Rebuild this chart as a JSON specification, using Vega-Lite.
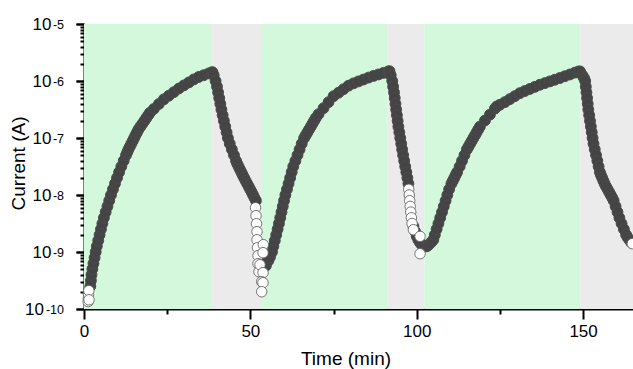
{
  "$schema": "https://vega.github.io/schema/vega-lite/v6.json",
  "width": 549,
  "height": 285,
  "autosize": {"type": "none"},
  "padding": {"left": 84, "top": 24, "right": 0, "bottom": 60},
  "background": "white",
  "config": {
    "view": {"stroke": null},
    "axis": {
      "domainColor": "black", "domainWidth": 2, "tickColor": "black", "tickWidth": 2,
      "labelFont": "Liberation Sans", "labelFontSize": 17, "labelColor": "black", "labelFlush": false, "labelOverlap": false,
      "titleFont": "Liberation Sans", "titleFontSize": 19, "titleFontWeight": "normal", "titleColor": "black",
      "grid": false, "zindex": 1
    }
  },
  "datasets": {
    "bands": [
      {"start": 0, "end": 38.5, "phase": "on"},
      {"start": 38.5, "end": 53.2, "phase": "off"},
      {"start": 53.2, "end": 91.3, "phase": "on"},
      {"start": 91.3, "end": 102.3, "phase": "off"},
      {"start": 102.3, "end": 149.2, "phase": "on"},
      {"start": 149.2, "end": 165, "phase": "off"}
    ],
    "main": [
      {"t": 1.91, "I": 2.512e-10}, {"t": 2.08, "I": 3.162e-10}, {"t": 2.25, "I": 3.981e-10}, {"t": 2.52, "I": 5.012e-10},
      {"t": 2.85, "I": 6.31e-10}, {"t": 3.18, "I": 7.943e-10}, {"t": 3.51, "I": 1e-9}, {"t": 3.85, "I": 1.259e-9},
      {"t": 4.27, "I": 1.585e-9}, {"t": 4.68, "I": 1.995e-9}, {"t": 5.10, "I": 2.512e-9}, {"t": 5.52, "I": 3.162e-9},
      {"t": 5.98, "I": 3.981e-9}, {"t": 6.51, "I": 5.012e-9}, {"t": 7.05, "I": 6.31e-9}, {"t": 7.58, "I": 7.943e-9},
      {"t": 8.12, "I": 1e-8}, {"t": 8.70, "I": 1.259e-8}, {"t": 9.32, "I": 1.585e-8}, {"t": 9.93, "I": 1.995e-8},
      {"t": 10.55, "I": 2.512e-8}, {"t": 11.22, "I": 3.162e-8}, {"t": 11.93, "I": 3.981e-8}, {"t": 12.64, "I": 5.012e-8},
      {"t": 13.00, "I": 5.623e-8}, {"t": 13.36, "I": 6.31e-8}, {"t": 13.79, "I": 7.079e-8}, {"t": 14.22, "I": 7.943e-8},
      {"t": 14.65, "I": 8.913e-8}, {"t": 15.07, "I": 1e-7}, {"t": 15.50, "I": 1.122e-7}, {"t": 15.93, "I": 1.259e-7},
      {"t": 16.37, "I": 1.413e-7}, {"t": 16.96, "I": 1.585e-7}, {"t": 17.55, "I": 1.778e-7}, {"t": 18.14, "I": 1.995e-7},
      {"t": 18.73, "I": 2.239e-7}, {"t": 19.32, "I": 2.512e-7}, {"t": 19.84, "I": 2.78e-7}, {"t": 21.0, "I": 3.24e-7},
      {"t": 22.5, "I": 3.945e-7}, {"t": 24.0, "I": 4.775e-7}, {"t": 25.5, "I": 5.52e-7}, {"t": 27.0, "I": 6.38e-7},
      {"t": 28.5, "I": 7.38e-7}, {"t": 30.0, "I": 8.37e-7}, {"t": 31.5, "I": 9.44e-7}, {"t": 33.0, "I": 1.067e-6},
      {"t": 34.5, "I": 1.178e-6}, {"t": 36.0, "I": 1.265e-6}, {"t": 37.5, "I": 1.358e-6}, {"t": 38.4, "I": 1.416e-6},
      {"t": 38.62, "I": 1.426e-6}, {"t": 38.98, "I": 1.259e-6}, {"t": 39.55, "I": 1e-6}, {"t": 39.98, "I": 7.943e-7},
      {"t": 40.31, "I": 6.31e-7}, {"t": 40.64, "I": 5.012e-7}, {"t": 40.97, "I": 3.981e-7}, {"t": 41.30, "I": 3.162e-7},
      {"t": 41.66, "I": 2.512e-7}, {"t": 42.05, "I": 1.995e-7}, {"t": 42.45, "I": 1.585e-7}, {"t": 42.85, "I": 1.259e-7},
      {"t": 43.25, "I": 1e-7}, {"t": 43.81, "I": 7.943e-8}, {"t": 44.44, "I": 6.31e-8}, {"t": 45.07, "I": 5.012e-8},
      {"t": 45.69, "I": 3.981e-8}, {"t": 46.04, "I": 3.548e-8}, {"t": 46.45, "I": 3.162e-8}, {"t": 46.87, "I": 2.818e-8},
      {"t": 47.28, "I": 2.512e-8}, {"t": 47.70, "I": 2.239e-8}, {"t": 48.13, "I": 1.995e-8}, {"t": 48.58, "I": 1.778e-8},
      {"t": 49.03, "I": 1.585e-8}, {"t": 49.48, "I": 1.413e-8}, {"t": 49.93, "I": 1.259e-8}, {"t": 50.38, "I": 1.122e-8},
      {"t": 50.81, "I": 1e-8}, {"t": 51.24, "I": 8.913e-9}, {"t": 51.67, "I": 7.943e-9},
      {"t": 53.46, "I": 6.76e-10}, {"t": 54.06, "I": 5.754e-10}, {"t": 54.66, "I": 5.754e-10}, {"t": 55.41, "I": 7.03e-10},
      {"t": 55.9, "I": 8.13e-10}, {"t": 56.50, "I": 1e-9}, {"t": 56.92, "I": 1.259e-9}, {"t": 57.34, "I": 1.585e-9},
      {"t": 57.77, "I": 1.995e-9}, {"t": 58.19, "I": 2.512e-9}, {"t": 58.59, "I": 3.162e-9}, {"t": 58.98, "I": 3.981e-9},
      {"t": 59.36, "I": 5.012e-9}, {"t": 59.74, "I": 6.31e-9}, {"t": 60.12, "I": 7.943e-9}, {"t": 60.53, "I": 1e-8},
      {"t": 61.00, "I": 1.259e-8}, {"t": 61.48, "I": 1.585e-8}, {"t": 61.95, "I": 1.995e-8}, {"t": 62.42, "I": 2.512e-8},
      {"t": 62.90, "I": 3.162e-8}, {"t": 63.53, "I": 3.981e-8}, {"t": 64.17, "I": 5.012e-8}, {"t": 64.80, "I": 6.31e-8},
      {"t": 65.43, "I": 7.943e-8}, {"t": 66.16, "I": 1e-7}, {"t": 66.66, "I": 1.122e-7}, {"t": 67.16, "I": 1.259e-7},
      {"t": 67.66, "I": 1.413e-7}, {"t": 68.16, "I": 1.585e-7}, {"t": 68.65, "I": 1.778e-7}, {"t": 69.15, "I": 1.995e-7},
      {"t": 69.65, "I": 2.239e-7}, {"t": 70.5, "I": 2.618e-7}, {"t": 72.0, "I": 3.342e-7}, {"t": 73.5, "I": 4.256e-7},
      {"t": 75.0, "I": 5.41e-7}, {"t": 76.5, "I": 6.22e-7}, {"t": 78.0, "I": 7.18e-7}, {"t": 79.5, "I": 8.28e-7},
      {"t": 81.0, "I": 9.10e-7}, {"t": 82.5, "I": 9.84e-7}, {"t": 84.0, "I": 1.062e-6}, {"t": 85.5, "I": 1.148e-6},
      {"t": 87.0, "I": 1.227e-6}, {"t": 88.5, "I": 1.303e-6}, {"t": 90.0, "I": 1.387e-6}, {"t": 91.4, "I": 1.469e-6},
      {"t": 91.83, "I": 1.486e-6}, {"t": 92.19, "I": 1.259e-6}, {"t": 92.64, "I": 1e-6}, {"t": 92.90, "I": 7.943e-7},
      {"t": 93.17, "I": 6.31e-7}, {"t": 93.39, "I": 5.012e-7}, {"t": 93.61, "I": 3.981e-7}, {"t": 93.82, "I": 3.162e-7},
      {"t": 94.04, "I": 2.512e-7}, {"t": 94.26, "I": 1.995e-7}, {"t": 94.48, "I": 1.585e-7}, {"t": 94.77, "I": 1.259e-7},
      {"t": 95.05, "I": 1e-7}, {"t": 95.34, "I": 7.943e-8}, {"t": 95.62, "I": 6.31e-8}, {"t": 95.91, "I": 5.012e-8},
      {"t": 96.22, "I": 3.981e-8}, {"t": 96.54, "I": 3.162e-8}, {"t": 96.87, "I": 2.512e-8}, {"t": 97.19, "I": 1.995e-8},
      {"t": 97.5, "I": 1.585e-8},
      {"t": 99.0, "I": 2.818e-9}, {"t": 99.5, "I": 2.291e-9}, {"t": 100.0, "I": 1.879e-9}, {"t": 100.5, "I": 1.622e-9},
      {"t": 101.0, "I": 1.455e-9}, {"t": 101.5, "I": 1.349e-9}, {"t": 102.0, "I": 1.288e-9}, {"t": 102.5, "I": 1.253e-9},
      {"t": 103.0, "I": 1.259e-9}, {"t": 103.5, "I": 1.318e-9}, {"t": 104.0, "I": 1.413e-9}, {"t": 104.5, "I": 1.514e-9},
      {"t": 105.0, "I": 1.644e-9}, {"t": 105.44, "I": 1.995e-9}, {"t": 105.98, "I": 2.512e-9}, {"t": 106.52, "I": 3.162e-9},
      {"t": 107.06, "I": 3.981e-9}, {"t": 107.60, "I": 5.012e-9}, {"t": 108.13, "I": 6.31e-9}, {"t": 108.67, "I": 7.943e-9},
      {"t": 109.20, "I": 1e-8}, {"t": 109.74, "I": 1.259e-8}, {"t": 110.43, "I": 1.585e-8}, {"t": 110.85, "I": 1.778e-8},
      {"t": 111.28, "I": 1.995e-8}, {"t": 111.70, "I": 2.239e-8}, {"t": 112.13, "I": 2.512e-8}, {"t": 112.90, "I": 3.162e-8},
      {"t": 113.62, "I": 3.981e-8}, {"t": 114.35, "I": 5.012e-8}, {"t": 115.08, "I": 6.31e-8}, {"t": 115.57, "I": 7.079e-8},
      {"t": 116.06, "I": 7.943e-8}, {"t": 116.55, "I": 8.913e-8}, {"t": 117.03, "I": 1e-7}, {"t": 117.52, "I": 1.122e-7},
      {"t": 118.01, "I": 1.259e-7}, {"t": 118.50, "I": 1.413e-7}, {"t": 118.99, "I": 1.585e-7}, {"t": 120.5, "I": 2.028e-7},
      {"t": 122.0, "I": 2.576e-7}, {"t": 123.5, "I": 3.281e-7}, {"t": 124.04, "I": 3.581e-7}, {"t": 125.0, "I": 3.828e-7},
      {"t": 126.5, "I": 4.266e-7}, {"t": 128.0, "I": 4.819e-7}, {"t": 129.5, "I": 5.433e-7}, {"t": 131.0, "I": 6.124e-7},
      {"t": 132.5, "I": 6.668e-7}, {"t": 134.0, "I": 7.261e-7}, {"t": 135.5, "I": 7.889e-7}, {"t": 137.0, "I": 8.59e-7},
      {"t": 138.5, "I": 9.183e-7}, {"t": 140.0, "I": 9.84e-7}, {"t": 141.5, "I": 1.052e-6}, {"t": 143.0, "I": 1.127e-6},
      {"t": 144.5, "I": 1.211e-6}, {"t": 146.0, "I": 1.3e-6}, {"t": 147.5, "I": 1.4e-6}, {"t": 148.6, "I": 1.469e-6},
      {"t": 149.08, "I": 1.472e-6}, {"t": 149.79, "I": 1.259e-6}, {"t": 150.3, "I": 1.122e-6}, {"t": 150.63, "I": 1e-6},
      {"t": 150.82, "I": 7.943e-7}, {"t": 151.01, "I": 6.31e-7}, {"t": 151.20, "I": 5.012e-7}, {"t": 151.39, "I": 3.981e-7},
      {"t": 151.57, "I": 3.162e-7}, {"t": 151.83, "I": 2.512e-7}, {"t": 152.08, "I": 1.995e-7}, {"t": 152.34, "I": 1.585e-7},
      {"t": 152.60, "I": 1.259e-7}, {"t": 152.85, "I": 1e-7}, {"t": 153.13, "I": 7.943e-8}, {"t": 153.51, "I": 6.31e-8},
      {"t": 153.89, "I": 5.012e-8}, {"t": 154.28, "I": 3.981e-8}, {"t": 154.66, "I": 3.162e-8}, {"t": 155.05, "I": 2.512e-8},
      {"t": 155.36, "I": 2.239e-8}, {"t": 155.73, "I": 1.995e-8}, {"t": 156.10, "I": 1.778e-8}, {"t": 156.46, "I": 1.585e-8},
      {"t": 156.9, "I": 1.413e-8}, {"t": 157.37, "I": 1.259e-8}, {"t": 157.84, "I": 1.122e-8}, {"t": 158.31, "I": 1e-8},
      {"t": 158.78, "I": 8.913e-9}, {"t": 159.19, "I": 7.943e-9}, {"t": 159.77, "I": 6.31e-9}, {"t": 160.34, "I": 5.012e-9},
      {"t": 160.91, "I": 3.981e-9}, {"t": 161.56, "I": 3.162e-9}, {"t": 162.25, "I": 2.512e-9}, {"t": 162.94, "I": 1.995e-9},
      {"t": 163.43, "I": 1.778e-9}, {"t": 164.07, "I": 1.585e-9}, {"t": 164.6, "I": 1.445e-9}
    ],
    "sparse": [
      {"t": 1.25, "I": 1.35e-10}, {"t": 1.3, "I": 1.55e-10}, {"t": 1.35, "I": 1.8e-10}, {"t": 1.45, "I": 2.1e-10}, {"t": 1.5, "I": 1.45e-10},
      {"t": 51.55, "I": 5.98e-9}, {"t": 51.7, "I": 4.34e-9}, {"t": 51.85, "I": 3.13e-9}, {"t": 52.0, "I": 2.27e-9},
      {"t": 52.0, "I": 1.64e-9}, {"t": 52.15, "I": 1.19e-9}, {"t": 52.3, "I": 8.61e-10}, {"t": 52.3, "I": 6.24e-10},
      {"t": 52.6, "I": 4.51e-10}, {"t": 52.9, "I": 5.98e-10}, {"t": 53.89, "I": 1.343e-9}, {"t": 53.8, "I": 9.73e-10},
      {"t": 53.8, "I": 4.34e-10}, {"t": 53.41, "I": 3.01e-10}, {"t": 53.8, "I": 2.89e-10}, {"t": 53.41, "I": 2.01e-10},
      {"t": 97.6, "I": 1.259e-8}, {"t": 97.75, "I": 1e-8}, {"t": 97.9, "I": 7.943e-9}, {"t": 98.05, "I": 6.31e-9},
      {"t": 98.2, "I": 5.012e-9}, {"t": 98.4, "I": 3.981e-9}, {"t": 98.6, "I": 3.162e-9}, {"t": 99.0, "I": 2.46e-9},
      {"t": 101.0, "I": 1.88e-9}, {"t": 101.0, "I": 9.33e-10}, {"t": 164.8, "I": 1.4e-9}
    ]
  },
  "layer": [
    {
      "data": {"name": "bands"},
      "mark": {"type": "rect"},
      "encoding": {
        "x": {"field": "start", "type": "quantitative", "scale": {"domain": [0, 165], "nice": false, "zero": false},
              "axis": {"orient": "bottom", "values": [0, 50, 100, 150], "format": "d", "tickSize": 10, "labelPadding": 4,
                       "title": "Time (min)", "titleX": 261.5, "titleY": 55, "titleBaseline": "alphabetic", "titleAnchor": null, "titleAlign": "center"}},
        "x2": {"field": "end"},
        "color": {"field": "phase", "type": "nominal", "scale": {"domain": ["on", "off"], "range": ["#d4f8dc", "#ebebeb"]}, "legend": null}
      }
    },
    {
      "data": {"name": "main"},
      "mark": {"type": "point", "shape": "circle", "filled": true, "fill": "#444444", "stroke": "#4c4c4c", "strokeWidth": 1, "size": 118, "opacity": 1},
      "encoding": {
        "x": {"field": "t", "type": "quantitative",
              "axis": {"orient": "bottom", "values": [25, 75, 125], "tickSize": 5, "labels": false, "domain": false, "title": null}},
        "y": {"field": "I", "type": "quantitative", "scale": {"type": "log", "domain": [1e-10, 1e-5], "nice": false},
              "axis": {"orient": "left", "values": [1e-9, 1e-8, 1e-7, 1e-6, 1e-5], "tickSize": 8, "labelPadding": 25,
                       "labelExpr": "'10'",
                       "title": "Current (A)", "titleX": -60, "titleY": 139, "titleBaseline": "alphabetic", "titleAnchor": null, "titleAlign": "center"}}
      }
    },
    {
      "data": {"name": "sparse"},
      "mark": {"type": "point", "shape": "circle", "filled": true, "fill": "white", "stroke": "#666666", "strokeWidth": 0.9, "size": 110, "opacity": 1},
      "encoding": {
        "x": {"field": "t", "type": "quantitative", "axis": null},
        "y": {"field": "I", "type": "quantitative",
              "axis": {"orient": "left", "values": [2e-10,3e-10,4e-10,5e-10,6e-10,7e-10,8e-10,9e-10,2e-9,3e-9,4e-9,5e-9,6e-9,7e-9,8e-9,9e-9,2e-8,3e-8,4e-8,5e-8,6e-8,7e-8,8e-8,9e-8,2e-7,3e-7,4e-7,5e-7,6e-7,7e-7,8e-7,9e-7,2e-6,3e-6,4e-6,5e-6,6e-6,7e-6,8e-6,9e-6],
                       "tickSize": 4, "labels": false, "domain": false, "title": null}}
      }
    },
    {
      "data": {"name": "sparse"},
      "mark": {"type": "point", "opacity": 0},
      "encoding": {
        "x": {"field": "t", "type": "quantitative", "axis": null},
        "y": {"field": "I", "type": "quantitative",
              "axis": {"orient": "left", "values": [1e-10], "tickSize": 8, "labelPadding": 32.5, "labelExpr": "'10'", "domain": false, "title": null}}
      }
    },
    {
      "data": {"name": "sparse"},
      "mark": {"type": "point", "opacity": 0},
      "encoding": {
        "x": {"field": "t", "type": "quantitative", "axis": null},
        "y": {"field": "I", "type": "quantitative",
              "axis": {"orient": "left", "values": [1e-10, 1e-9, 1e-8, 1e-7, 1e-6, 1e-5], "tickSize": 8, "labelPadding": 12.5,
                       "labelFontSize": 12.5, "labelDy": -6.5,
                       "labelExpr": "['-10','-9','-8','-7','-6','-5'][round(log(datum.value)/LN10)+10]", "domain": false, "title": null}}
      }
    }
  ],
  "resolve": {"axis": {"x": "independent", "y": "independent"}}
}
